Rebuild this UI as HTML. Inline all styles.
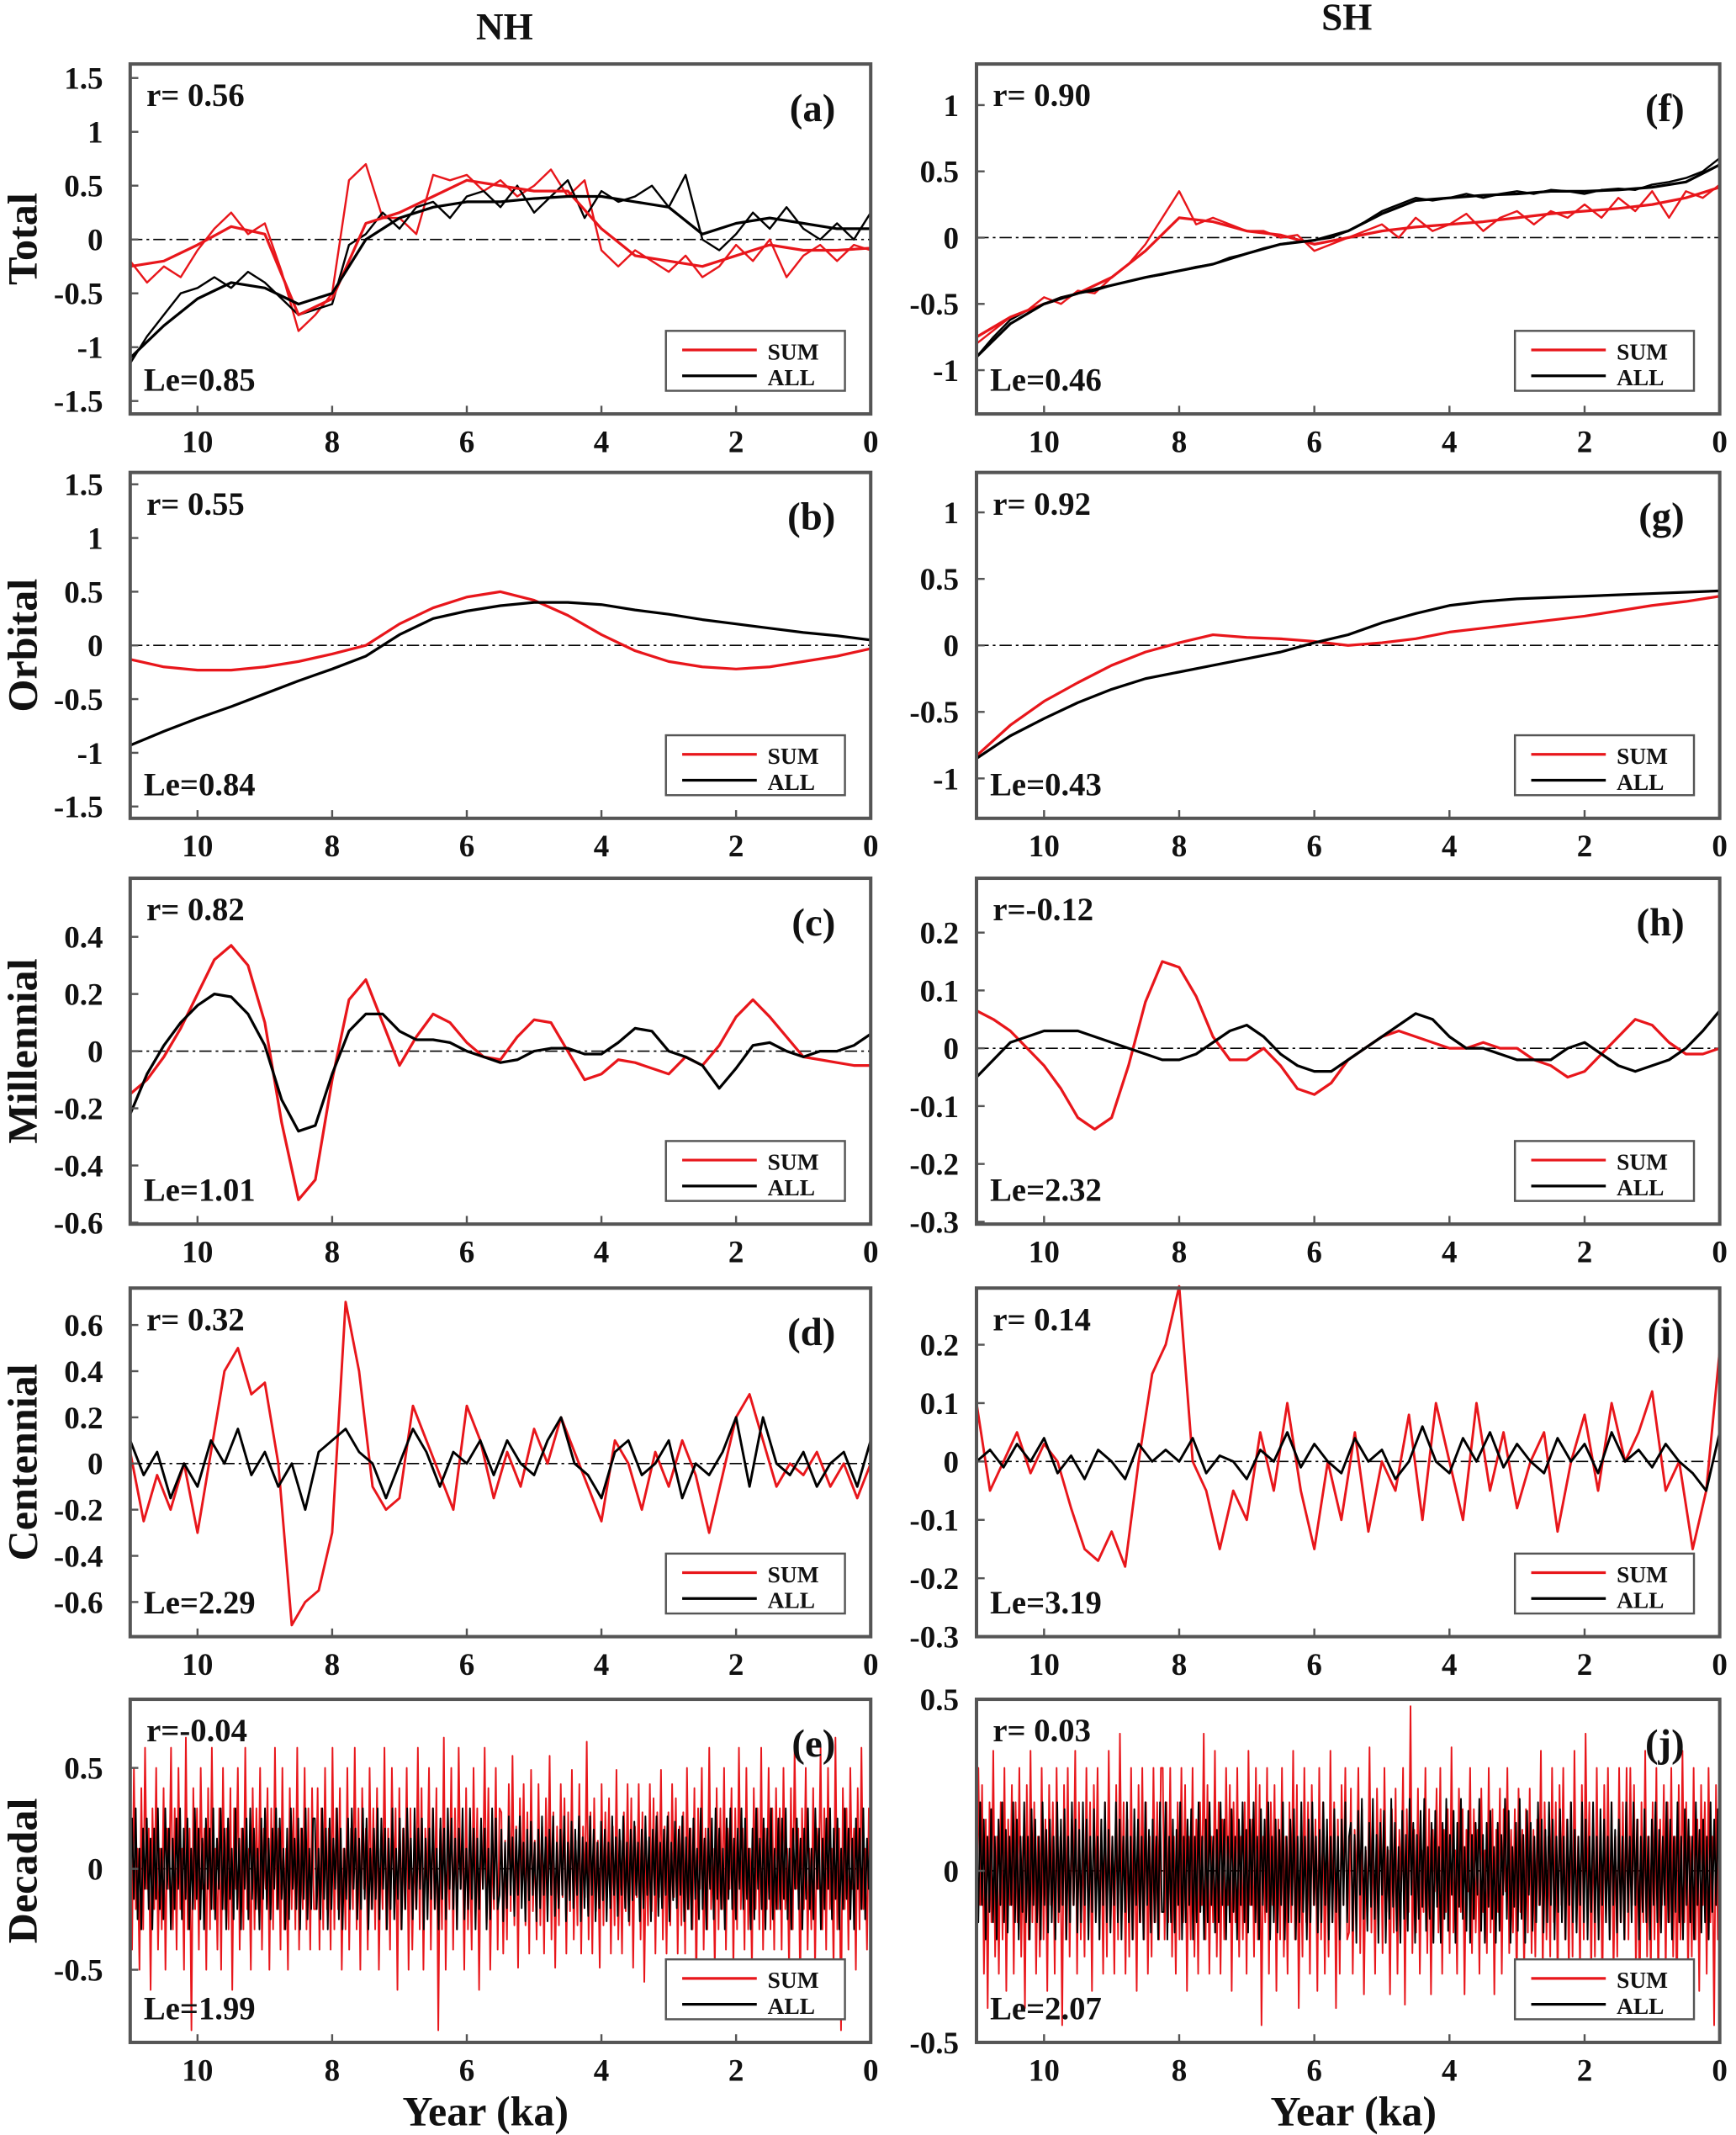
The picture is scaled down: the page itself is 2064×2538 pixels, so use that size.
<!DOCTYPE html>
<html><head><meta charset="utf-8">
<style>
html,body{margin:0;padding:0;background:#fff;}
svg{display:block;}
text{font-family:"Liberation Serif",serif;font-weight:bold;fill:#111;}
</style></head>
<body>
<svg id="fig" xmlns="http://www.w3.org/2000/svg" width="2064" height="2538" viewBox="0 0 1280 1568" preserveAspectRatio="none">
<text x="372" y="29" font-size="28" text-anchor="middle">NH</text>
<text x="993" y="22" font-size="28" text-anchor="middle">SH</text>
<text x="358" y="1561" font-size="31" text-anchor="middle">Year (ka)</text>
<text x="998" y="1561" font-size="31" text-anchor="middle">Year (ka)</text>
</svg>
<script>
// ---------- data ----------
const X05=[11,10.5,10,9.5,9,8.5,8,7.5,7,6.5,6,5.5,5,4.5,4,3.5,3,2.5,2,1.5,1,0.5,0];
const X025=[11,10.75,10.5,10.25,10,9.75,9.5,9.25,9,8.75,8.5,8.25,8,7.75,7.5,7.25,7,6.75,6.5,6.25,6,5.75,5.5,5.25,5,4.75,4.5,4.25,4,3.75,3.5,3.25,3,2.75,2.5,2.25,2,1.75,1.5,1.25,1,0.75,0.5,0.25,0];
const X02=[11,10.8,10.6,10.4,10.2,10,9.8,9.6,9.4,9.2,9,8.8,8.6,8.4,8.2,8,7.8,7.6,7.4,7.2,7,6.8,6.6,6.4,6.2,6,5.8,5.6,5.4,5.2,5,4.8,4.6,4.4,4.2,4,3.8,3.6,3.4,3.2,3,2.8,2.6,2.4,2.2,2,1.8,1.6,1.4,1.2,1,0.8,0.6,0.4,0.2,0];

const aSumSmooth=[-0.25,-0.2,-0.05,0.12,0.05,-0.7,-0.55,0.15,0.25,0.4,0.55,0.5,0.45,0.45,0.1,-0.15,-0.2,-0.25,-0.15,-0.05,-0.1,-0.1,-0.08];
const aAllSmooth=[-1.1,-0.8,-0.55,-0.4,-0.45,-0.6,-0.5,0.0,0.2,0.3,0.35,0.35,0.38,0.4,0.4,0.35,0.3,0.05,0.15,0.2,0.15,0.1,0.1];
const aSumRaw=[-0.2,-0.4,-0.25,-0.35,-0.1,0.1,0.25,0.05,0.15,-0.3,-0.85,-0.7,-0.5,0.55,0.7,0.2,0.2,0.05,0.6,0.55,0.6,0.45,0.55,0.4,0.5,0.65,0.4,0.55,-0.1,-0.25,-0.1,-0.2,-0.3,-0.15,-0.35,-0.25,-0.05,-0.2,0.0,-0.35,-0.15,-0.05,-0.2,-0.05,-0.1];
const aAllRaw=[-1.15,-0.9,-0.7,-0.5,-0.45,-0.35,-0.45,-0.3,-0.4,-0.55,-0.7,-0.65,-0.6,-0.05,0.05,0.25,0.1,0.3,0.35,0.2,0.4,0.45,0.3,0.5,0.25,0.4,0.55,0.2,0.45,0.35,0.4,0.5,0.3,0.6,0.0,-0.1,0.05,0.25,0.1,0.3,0.1,0.0,0.15,0.0,0.25];

const fSumSmooth=[-0.75,-0.6,-0.5,-0.42,-0.3,-0.1,0.15,0.12,0.05,0.02,-0.05,0.0,0.05,0.08,0.1,0.12,0.15,0.18,0.2,0.22,0.25,0.3,0.38];
const fAllSmooth=[-0.9,-0.65,-0.5,-0.42,-0.36,-0.3,-0.25,-0.2,-0.12,-0.05,-0.02,0.05,0.18,0.28,0.3,0.32,0.33,0.35,0.35,0.36,0.38,0.42,0.55];
const fSumRaw=[-0.8,-0.7,-0.6,-0.55,-0.45,-0.5,-0.4,-0.42,-0.3,-0.2,-0.05,0.15,0.35,0.1,0.15,0.1,0.05,0.05,0.0,0.02,-0.1,-0.05,0.0,0.05,0.1,0.0,0.15,0.05,0.1,0.18,0.05,0.15,0.2,0.1,0.2,0.15,0.25,0.15,0.3,0.2,0.35,0.15,0.35,0.3,0.4];
const fAllRaw=[-0.9,-0.75,-0.62,-0.55,-0.5,-0.45,-0.42,-0.4,-0.36,-0.33,-0.3,-0.28,-0.25,-0.22,-0.2,-0.15,-0.12,-0.08,-0.05,-0.03,-0.02,0.0,0.05,0.12,0.2,0.25,0.3,0.28,0.3,0.33,0.3,0.33,0.35,0.33,0.36,0.35,0.33,0.36,0.37,0.36,0.4,0.42,0.45,0.5,0.6];

const bSum=[-0.13,-0.2,-0.23,-0.23,-0.2,-0.15,-0.08,0.0,0.2,0.35,0.45,0.5,0.42,0.28,0.1,-0.05,-0.15,-0.2,-0.22,-0.2,-0.15,-0.1,-0.03];
const bAll=[-0.93,-0.8,-0.68,-0.57,-0.45,-0.33,-0.22,-0.1,0.1,0.25,0.32,0.37,0.4,0.4,0.38,0.33,0.29,0.24,0.2,0.16,0.12,0.09,0.05];
const gSum=[-0.83,-0.6,-0.42,-0.28,-0.15,-0.05,0.02,0.08,0.06,0.05,0.03,0.0,0.02,0.05,0.1,0.13,0.16,0.19,0.22,0.26,0.3,0.33,0.37];
const gAll=[-0.85,-0.68,-0.55,-0.43,-0.33,-0.25,-0.2,-0.15,-0.1,-0.05,0.02,0.08,0.17,0.24,0.3,0.33,0.35,0.36,0.37,0.38,0.39,0.4,0.41];

const cSum=[-0.15,-0.1,-0.02,0.08,0.2,0.32,0.37,0.3,0.1,-0.25,-0.52,-0.45,-0.1,0.18,0.25,0.1,-0.05,0.05,0.13,0.1,0.03,-0.02,-0.03,0.05,0.11,0.1,0.0,-0.1,-0.08,-0.03,-0.04,-0.06,-0.08,-0.02,-0.05,0.02,0.12,0.18,0.12,0.05,-0.02,-0.03,-0.04,-0.05,-0.05];
const cAll=[-0.22,-0.08,0.02,0.1,0.16,0.2,0.19,0.13,0.02,-0.17,-0.28,-0.26,-0.08,0.07,0.13,0.13,0.07,0.04,0.04,0.03,0.0,-0.02,-0.04,-0.03,0.0,0.01,0.01,-0.01,-0.01,0.03,0.08,0.07,0.0,-0.02,-0.05,-0.13,-0.06,0.02,0.03,0.0,-0.02,0.0,0.0,0.02,0.06];
const hSum=[0.065,0.05,0.03,0.0,-0.03,-0.07,-0.12,-0.14,-0.12,-0.03,0.08,0.15,0.14,0.09,0.02,-0.02,-0.02,0.0,-0.03,-0.07,-0.08,-0.06,-0.02,0.0,0.02,0.03,0.02,0.01,0.0,0.0,0.01,0.0,0.0,-0.02,-0.03,-0.05,-0.04,-0.01,0.02,0.05,0.04,0.01,-0.01,-0.01,0.0];
const hAll=[-0.05,-0.02,0.01,0.02,0.03,0.03,0.03,0.02,0.01,0.0,-0.01,-0.02,-0.02,-0.01,0.01,0.03,0.04,0.02,-0.01,-0.03,-0.04,-0.04,-0.02,0.0,0.02,0.04,0.06,0.05,0.02,0.0,0.0,-0.01,-0.02,-0.02,-0.02,0.0,0.01,-0.01,-0.03,-0.04,-0.03,-0.02,0.0,0.03,0.065];

const dSum=[0.05,-0.25,-0.05,-0.2,0.0,-0.3,0.05,0.4,0.5,0.3,0.35,0.0,-0.7,-0.6,-0.55,-0.3,0.7,0.4,-0.1,-0.2,-0.15,0.25,0.1,-0.05,-0.2,0.25,0.1,-0.15,0.05,-0.1,0.15,0.0,0.2,0.05,-0.1,-0.25,0.1,0.0,-0.2,0.05,-0.1,0.1,-0.05,-0.3,-0.05,0.2,0.3,0.1,-0.1,0.0,-0.05,0.05,-0.1,0.0,-0.15,0.0];
const dAll=[0.1,-0.05,0.05,-0.15,0.0,-0.1,0.1,0.0,0.15,-0.05,0.05,-0.1,0.0,-0.2,0.05,0.1,0.15,0.05,0.0,-0.15,0.0,0.15,0.05,-0.1,0.05,0.0,0.1,-0.05,0.1,0.0,-0.05,0.1,0.2,0.0,-0.05,-0.15,0.05,0.1,-0.05,0.0,0.1,-0.15,0.0,-0.05,0.05,0.2,-0.1,0.2,0.0,-0.05,0.05,-0.1,0.0,0.05,-0.1,0.1];
const iSum=[0.1,-0.05,0.0,0.05,-0.02,0.03,0.0,-0.08,-0.15,-0.17,-0.12,-0.18,0.0,0.15,0.2,0.3,0.0,-0.05,-0.15,-0.05,-0.1,0.05,-0.05,0.1,-0.05,-0.15,0.0,-0.1,0.05,-0.12,0.0,-0.05,0.08,-0.1,0.1,0.0,-0.1,0.1,-0.05,0.05,-0.08,0.0,0.05,-0.12,0.0,0.08,-0.05,0.1,0.0,0.05,0.12,-0.05,0.0,-0.15,-0.05,0.19];
const iAll=[0.0,0.02,-0.01,0.03,0.0,0.04,-0.02,0.01,-0.03,0.02,0.0,-0.03,0.03,0.0,0.02,0.0,0.04,-0.02,0.01,0.0,-0.03,0.02,0.0,0.05,-0.01,0.03,0.0,-0.02,0.04,0.0,0.02,-0.03,0.0,0.06,0.0,-0.02,0.04,0.0,0.05,-0.01,0.03,0.0,-0.02,0.04,0.0,0.03,-0.02,0.05,0.0,0.02,-0.01,0.03,0.0,-0.02,-0.05,0.05];

const eSumA=[0.3,-0.4,0.5,-0.2,0.1,-0.5,0.4,-0.3,0.6,-0.1,0.2,-0.6,0.3,-0.2,0.5,-0.4,0.1,-0.3,0.4,-0.5,0.2,-0.1,0.6,-0.3,0.3,-0.4,0.5,-0.2,0.1,-0.5,0.65,-0.3,0.2,-0.8,0.4,-0.2,0.3,-0.4,0.5,-0.1,0.2,-0.5,0.4,-0.3,0.6,-0.2,0.1,-0.4,0.3,-0.5,0.5,-0.2,0.2,-0.3,0.4,-0.6,0.3,-0.1,0.5,-0.4,0.2,-0.3,0.6,-0.2,0.1,-0.5,0.4,-0.3,0.3,-0.2,0.5,-0.4,0.2,-0.1,0.4,-0.5,0.3,-0.3,0.6,-0.2,0.2,-0.4,0.5,-0.3,0.1,-0.5,0.4,-0.2,0.3,-0.3,0.6,-0.4,0.2,-0.2,0.5,-0.3,0.3,-0.4,0.4,-0.2];
const eAllA=[-0.2,0.25,-0.15,0.3,-0.25,0.1,-0.3,0.2,-0.1,0.25,-0.2,0.15,-0.3,0.2,-0.15,0.3,-0.2,0.1,-0.25,0.3,-0.1,0.2,-0.3,0.15,-0.2,0.25,-0.1,0.3,-0.25,0.2,-0.15,0.25,-0.3,0.1,-0.2,0.3,-0.15,0.2,-0.25,0.15,-0.3,0.25,-0.1,0.2,-0.2,0.3,-0.25,0.15,-0.1,0.3,-0.2,0.2,-0.3,0.25,-0.15,0.1,-0.25,0.3,-0.2,0.15,-0.3,0.2,-0.1,0.25,-0.25,0.3,-0.15,0.2,-0.2,0.1,-0.3,0.25,-0.15,0.3,-0.2,0.15,-0.25,0.2,-0.1,0.3,-0.2,0.25,-0.15,0.1,-0.3,0.2,-0.25,0.3,-0.1,0.15,-0.2,0.25,-0.3,0.2,-0.15,0.3,-0.25,0.1,-0.2,0.25];
const jSumA=[-0.2,0.3,-0.1,0.25,-0.3,0.15,-0.4,0.2,-0.15,0.35,-0.25,0.1,-0.3,0.2,-0.2,0.3,-0.35,0.15,-0.1,0.25,-0.3,0.2,-0.15,0.3,-0.25,0.1,-0.4,0.25,-0.2,0.35,-0.15,0.2,-0.3,0.1,-0.25,0.3,-0.2,0.15,-0.35,0.25,-0.1,0.2,-0.3,0.3,-0.15,0.1,-0.45,0.25,-0.2,0.3,-0.25,0.15,-0.1,0.35,-0.3,0.2,-0.2,0.1,-0.25,0.3,-0.15,0.2,-0.35,0.25,-0.1,0.3,-0.2,0.15,-0.3,0.2,-0.25,0.35,-0.15,0.1,-0.3,0.25,-0.2,0.4,-0.1,0.2,-0.3,0.15,-0.25,0.3,-0.2,0.1,-0.35,0.25,-0.15,0.3,-0.2,0.2,-0.3,0.1,-0.25,0.3,-0.15,0.2,-0.2,0.3];
const jAllA=[0.1,-0.15,0.2,-0.1,0.15,-0.2,0.1,-0.12,0.18,-0.15,0.1,-0.2,0.15,-0.1,0.2,-0.15,0.12,-0.18,0.1,-0.1,0.2,-0.15,0.15,-0.2,0.1,-0.12,0.2,-0.15,0.1,-0.2,0.18,-0.1,0.15,-0.15,0.1,-0.2,0.2,-0.1,0.12,-0.18,0.15,-0.15,0.1,-0.2,0.2,-0.12,0.15,-0.1,0.18,-0.2,0.1,-0.15,0.2,-0.1,0.15,-0.18,0.12,-0.15,0.2,-0.1,0.15,-0.2,0.1,-0.12,0.18,-0.15,0.1,-0.2,0.15,-0.1,0.2,-0.15,0.12,-0.18,0.1,-0.1,0.2,-0.15,0.15,-0.2,0.1,-0.12,0.2,-0.15,0.1,-0.2,0.18,-0.1,0.15,-0.15,0.1,-0.2,0.2,-0.1,0.12,-0.18,0.15,-0.15,0.1,-0.2,0.2,-0.12];
// decadal series: chain the typed segments to reach the dense sampling of the original
const eSum=eSumA.concat(eSumA.slice().reverse(),jSumA.map(v=>-v*1.4),eSumA.slice(50).concat(eSumA.slice(0,50)));
const eAll=eAllA.concat(eAllA.slice().reverse(),jAllA.map(v=>-v*1.3),eAllA.slice(50).concat(eAllA.slice(0,50)));
const jSum=jSumA.concat(jSumA.slice().reverse(),eSumA.map(v=>-v*0.6),jSumA.slice(50).concat(jSumA.slice(0,50)));
const jAll=jAllA.concat(jAllA.slice().reverse(),eAllA.map(v=>-v*0.7),jAllA.slice(50).concat(jAllA.slice(0,50)));

const xTickVals=[10,8,6,4,2,0];
const yTicksWide=[1.5,1,0.5,0,-0.5,-1,-1.5];
const yTicksOne=[1,0.5,0,-0.5,-1];
const yTicksC=[0.4,0.2,0,-0.2,-0.4,-0.6];
const yTicksH=[0.2,0.1,0,-0.1,-0.2,-0.3];
const yTicksD=[0.6,0.4,0.2,0,-0.2,-0.4,-0.6];
const yTicksI=[0.2,0.1,0,-0.1,-0.2,-0.3];
const yTicksE=[0.5,0,-0.5];
const yTicksJ=[0.5,0,-0.5];

// ---------- drawing ----------
const NS="http://www.w3.org/2000/svg";
const svg=document.getElementById('fig');
function mk(tag,attrs,parent){const e=document.createElementNS(NS,tag);for(const k in attrs)e.setAttribute(k,attrs[k]);(parent||svg).appendChild(e);return e;}
function fmt(v){return String(v);}
function decX(n){const a=[];for(let i=0;i<n;i++)a.push(11-11*i/(n-1));return a;}

function panel(c){
  const g=mk('g',{});
  
  
  const xs=v=>c.x0+(11-v)/11*(c.x1-c.x0);
  const ys=v=>c.y0+(c.ymax-v)/(c.ymax-c.ymin)*(c.y1-c.y0);
  const z=mk('line',{x1:c.x0,x2:c.x1,y1:ys(0),y2:ys(0),stroke:'#000','stroke-width':1,'stroke-dasharray':'9,3,2,3'},g);
  
  
  c.series.forEach(s=>{
    const pts=s.y.map((v,i)=>xs(s.x[i]).toFixed(2)+','+ys(v).toFixed(2)).join(' ');
    const p=mk('polyline',{points:pts,fill:'none',stroke:s.color,'stroke-width':s.w||1.6,'stroke-linejoin':'round'},g);
    
    
  });
  const f=mk('rect',{x:c.x0,y:c.y0,width:c.x1-c.x0,height:c.y1-c.y0,fill:'none',stroke:'#555','stroke-width':2.5},g);
  
  
  c.yticks.forEach(v=>{
    const y=ys(v);
    mk('line',{x1:c.x0,x2:c.x0+6,y1:y,y2:y,stroke:'#555','stroke-width':1.5},g);
    const t=mk('text',{x:c.ylx,y:y+8,'font-size':23,'text-anchor':'end'},g);
    t.textContent=fmt(v);
    
    
  });
  xTickVals.forEach(v=>{
    const x=xs(v);
    mk('line',{x1:x,x2:x,y1:c.y1,y2:c.y1-6,stroke:'#555','stroke-width':1.5},g);
    const t=mk('text',{x:x,y:c.y1+28,'font-size':23,'text-anchor':'middle'},g);
    t.textContent=String(v);
    
    
  });
  const r=mk('text',{x:c.x0+12,y:c.y0+31,'font-size':24},g);
  r.textContent=c.r;
  
  
  const l=mk('text',{x:c.x1-26,y:c.y0+42,'font-size':29,'text-anchor':'end'},g);
  l.textContent='('+c.letter+')';
  
  
  const le=mk('text',{x:c.x0+10,y:c.y1-17,'font-size':24},g);
  le.textContent=c.le;
  
  
  if(c.ylabel){
    const cy=(c.y0+c.y1)/2;
    const yl=mk('text',{x:27,y:cy,'font-size':31,'text-anchor':'middle',transform:'rotate(-90 27 '+cy+')'},g);
    yl.textContent=c.ylabel;
    
    
  }
  const lg=mk('g',{},g);
  
  
  mk('rect',{x:c.x1-151,y:c.y1-61,width:132,height:44,fill:'#fff',stroke:'#555','stroke-width':1.5},lg);
  mk('line',{x1:c.x1-139,x2:c.x1-84,y1:c.y1-47,y2:c.y1-47,stroke:'#e8161b','stroke-width':2},lg);
  mk('line',{x1:c.x1-139,x2:c.x1-84,y1:c.y1-28,y2:c.y1-28,stroke:'#000','stroke-width':2},lg);
  const t1=mk('text',{x:c.x1-76,y:c.y1-40,'font-size':17},lg);t1.textContent='SUM';
  
  
  const t2=mk('text',{x:c.x1-76,y:c.y1-21,'font-size':17},lg);t2.textContent='ALL';
  
  
}
const RED='#e8161b', BLK='#000';
const L={x0:96,x1:642,ylx:76}, R={x0:720,x1:1268,ylx:707};
panel({...L,y0:47,y1:304,ymin:-1.62,ymax:1.63,yticks:yTicksWide,letter:'a',r:'r= 0.56',le:'Le=0.85',ylabel:'Total',
 series:[{name:'sum-raw',x:X025,y:aSumRaw,color:RED,w:1.5},{name:'all-raw',x:X025,y:aAllRaw,color:BLK,w:1.5},{name:'sum-smooth',x:X05,y:aSumSmooth,color:RED,w:2},{name:'all-smooth',x:X05,y:aAllSmooth,color:BLK,w:2}]});
panel({...R,y0:47,y1:304,ymin:-1.33,ymax:1.31,yticks:yTicksOne,letter:'f',r:'r= 0.90',le:'Le=0.46',
 series:[{name:'sum-raw',x:X025,y:fSumRaw,color:RED,w:1.5},{name:'all-raw',x:X025,y:fAllRaw,color:BLK,w:1.5},{name:'sum-smooth',x:X05,y:fSumSmooth,color:RED,w:2},{name:'all-smooth',x:X05,y:fAllSmooth,color:BLK,w:2}]});
panel({...L,y0:347,y1:601,ymin:-1.61,ymax:1.61,yticks:yTicksWide,letter:'b',r:'r= 0.55',le:'Le=0.84',ylabel:'Orbital',
 series:[{name:'sum-line',x:X05,y:bSum,color:RED,w:2},{name:'all-line',x:X05,y:bAll,color:BLK,w:2}]});
panel({...R,y0:347,y1:601,ymin:-1.30,ymax:1.30,yticks:yTicksOne,letter:'g',r:'r= 0.92',le:'Le=0.43',
 series:[{name:'sum-line',x:X05,y:gSum,color:RED,w:2},{name:'all-line',x:X05,y:gAll,color:BLK,w:2}]});
panel({...L,y0:645,y1:899,ymin:-0.605,ymax:0.605,yticks:yTicksC,letter:'c',r:'r= 0.82',le:'Le=1.01',ylabel:'Millennial',
 series:[{name:'sum-line',x:X025,y:cSum,color:RED,w:2},{name:'all-line',x:X025,y:cAll,color:BLK,w:2}]});
panel({...R,y0:645,y1:899,ymin:-0.304,ymax:0.294,yticks:yTicksH,letter:'h',r:'r=-0.12',le:'Le=2.32',
 series:[{name:'sum-line',x:X025,y:hSum,color:RED,w:2},{name:'all-line',x:X025,y:hAll,color:BLK,w:2}]});
panel({...L,y0:946,y1:1202,ymin:-0.75,ymax:0.76,yticks:yTicksD,letter:'d',r:'r= 0.32',le:'Le=2.29',ylabel:'Centennial',
 series:[{name:'sum-line',x:X02,y:dSum,color:RED,w:1.8},{name:'all-line',x:X02,y:dAll,color:BLK,w:1.8}]});
panel({...R,y0:946,y1:1202,ymin:-0.3,ymax:0.297,yticks:yTicksI,letter:'i',r:'r= 0.14',le:'Le=3.19',
 series:[{name:'sum-line',x:X02,y:iSum,color:RED,w:1.8},{name:'all-line',x:X02,y:iAll,color:BLK,w:1.8}]});
panel({...L,y0:1248,y1:1500,ymin:-0.86,ymax:0.84,yticks:yTicksE,letter:'e',r:'r=-0.04',le:'Le=1.99',ylabel:'Decadal',
 series:[{name:'sum-line',x:decX(eSum.length),y:eSum,color:RED,w:1.2},{name:'all-line',x:decX(eAll.length),y:eAll,color:BLK,w:1.2}]});
panel({...R,y0:1248,y1:1500,ymin:-0.5,ymax:0.5,yticks:yTicksJ,letter:'j',r:'r= 0.03',le:'Le=2.07',
 series:[{name:'sum-line',x:decX(jSum.length),y:jSum,color:RED,w:1.2},{name:'all-line',x:decX(jAll.length),y:jAll,color:BLK,w:1.2}]});
</script>
</body></html>
